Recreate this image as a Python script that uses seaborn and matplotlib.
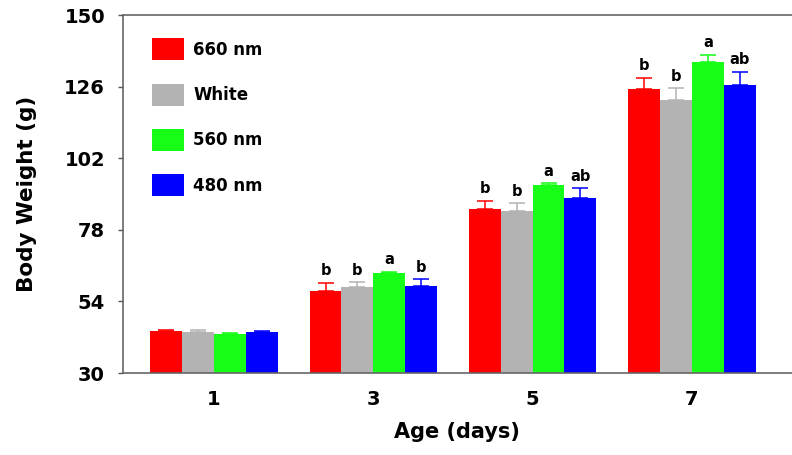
import matplotlib
matplotlib.use("Agg")
import matplotlib.pyplot as plt
from matplotlib.container import BarContainer
import seaborn as sns
import pandas as pd

# Body weight by age and light treatment
days = ["1", "3", "5", "7"]
groups = ["660 nm", "White", "560 nm", "480 nm"]
colors = ["#FF0000", "#B3B3B3", "#17FF17", "#0000FF"]

mean_660 = [44.1, 57.5, 85.0, 125.2]
mean_white = [43.9, 58.8, 84.3, 121.4]
mean_560 = [43.2, 63.5, 93.0, 134.4]
mean_480 = [43.9, 59.1, 88.6, 126.5]

sem_660 = [0.4, 2.8, 2.8, 3.8]
sem_white = [0.4, 1.6, 2.6, 4.0]
sem_560 = [0.3, 0.5, 0.6, 2.2]
sem_480 = [0.3, 2.3, 3.3, 4.5]

sig_660 = ["", "b", "b", "b"]
sig_white = ["", "b", "b", "b"]
sig_560 = ["", "a", "a", "a"]
sig_480 = ["", "b", "ab", "ab"]

yticks = [30, 54, 78, 102, 126, 150]

means = [mean_660, mean_white, mean_560, mean_480]
sems = [sem_660, sem_white, sem_560, sem_480]
sigs = [sig_660, sig_white, sig_560, sig_480]

df = pd.DataFrame(
    [(d, g, means[i][j]) for i, g in enumerate(groups) for j, d in enumerate(days)],
    columns=["Age", "Group", "Weight"],
)

sns.set_style("white")
plt.rcParams["font.family"] = ["DejaVu Sans"]
plt.rcParams["font.weight"] = "bold"
plt.rcParams["text.color"] = "black"
plt.rcParams["axes.labelcolor"] = "black"

fig = plt.figure(figsize=(7.92, 4.55), dpi=100)
ax = fig.add_axes([0.1547, 0.180, 0.8453, 0.787])

sns.barplot(data=df, x="Age", y="Weight", hue="Group", order=days,
            hue_order=groups, palette=colors, width=0.8, errorbar=None,
            saturation=1, linewidth=0, ax=ax)

bar_groups = [c for c in ax.containers if isinstance(c, BarContainer)]
for i, cont in enumerate(bar_groups):
    for j, bar in enumerate(cont.patches):
        xc = bar.get_x() + bar.get_width() / 2
        top = bar.get_height()
        ax.errorbar(xc, top, yerr=[[0], [sems[i][j]]], fmt="none",
                    ecolor=colors[i], elinewidth=1.1, capsize=6,
                    capthick=1.1, zorder=3)
        if sigs[i][j]:
            ax.text(xc, top + sems[i][j] + 1.6, sigs[i][j], ha="center",
                    va="bottom", fontsize=10.5, fontweight="bold", color="black")

ax.set_ylim(30, 150)
ax.set_xlim(-0.574, 3.628)
ax.set_yticks(yticks)
ax.set_yticklabels([str(t) for t in yticks], fontsize=14, fontweight="bold")
ax.set_xticks(range(len(days)))
ax.set_xticklabels(days, fontsize=14, fontweight="bold")
ax.tick_params(axis="y", direction="out", length=3.6, width=1, color="#555555",
               labelcolor="black", left=True, pad=9)
ax.tick_params(axis="x", length=0, pad=12, labelcolor="black")

for side in ["left", "bottom", "top"]:
    ax.spines[side].set_color("#666666")
    ax.spines[side].set_linewidth(1.2)
ax.spines["right"].set_visible(False)

ax.set_xlabel("Age (days)", fontsize=15, fontweight="bold")
ax.set_ylabel("Body Weight (g)", fontsize=15.5, fontweight="bold")
ax.xaxis.set_label_coords(0.5, -0.137)
ax.yaxis.set_label_coords(-0.1277, 0.5)

handles, labels = ax.get_legend_handles_labels()
ax.legend(handles, labels, loc="upper left", bbox_to_anchor=(0.044, 0.935),
          frameon=False, prop={"size": 12, "weight": "bold"},
          borderpad=0, borderaxespad=0,
          handlelength=1.92, handleheight=1.654, labelspacing=1.4,
          handletextpad=0.55)

fig.savefig("out.png", dpi=100)
